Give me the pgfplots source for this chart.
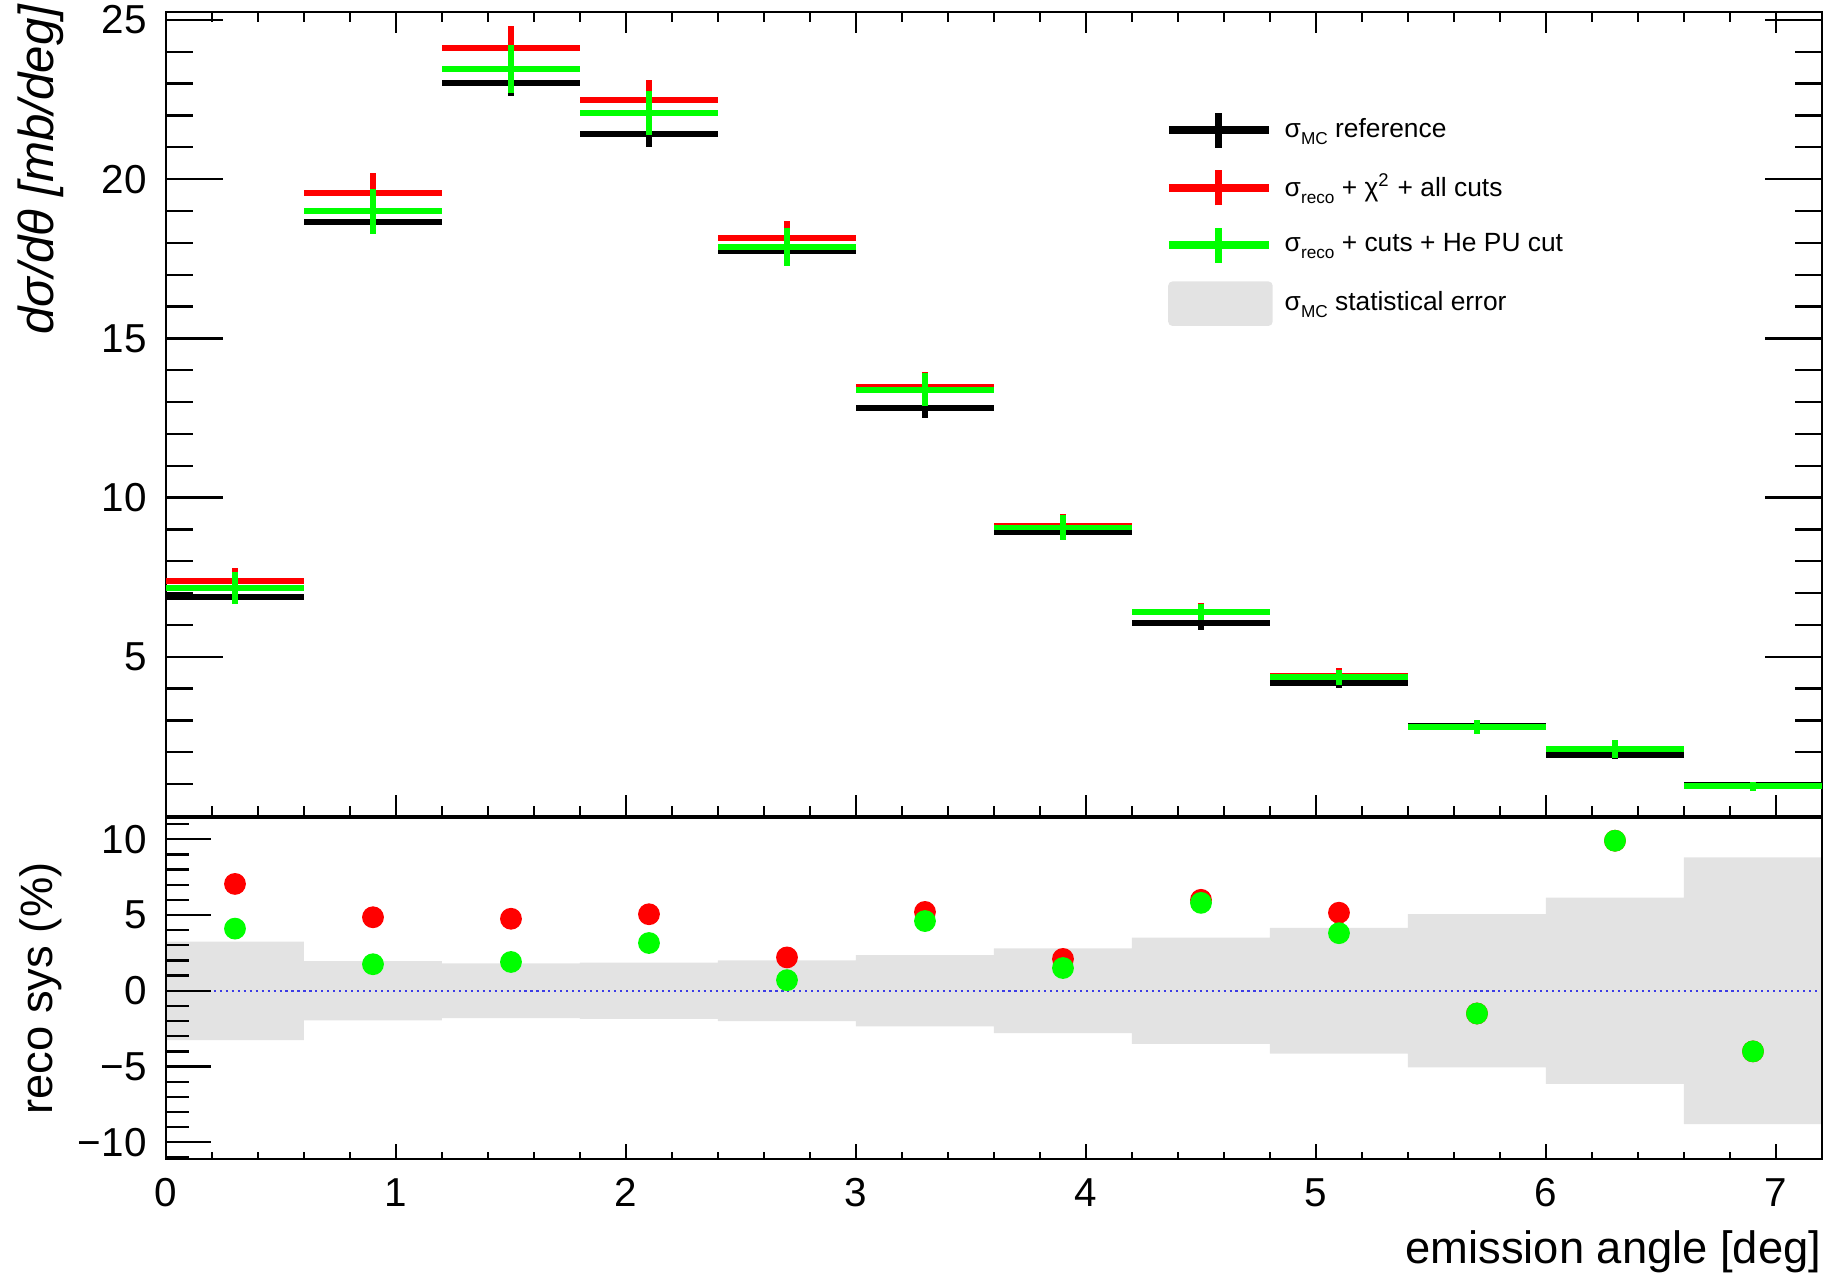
\documentclass[border=0pt]{standalone}
\usepackage{fontspec}
\setmainfont{Liberation Sans}
\usepackage{pgfplots}
\usepackage{pgfplotstable}
\pgfplotsset{compat=1.18}
\definecolor{rred}{RGB}{255,0,0}
\definecolor{rgreen}{RGB}{0,255,0}
\definecolor{band}{RGB}{227,227,227}
\definecolor{rblue}{RGB}{60,60,230}
\newcommand{\sub}[1]{\raisebox{-0.5ex}{\fontsize{4.9}{5}\selectfont #1}}

\pgfplotstableread{
x y ey
0.3 6.88 0.23
0.9 18.66 0.37
1.5 23.02 0.42
2.1 21.41 0.40
2.7 17.75 0.36
3.3 12.80 0.30
3.9 8.93 0.25
4.5 6.06 0.21
5.1 4.19 0.17
5.7 2.84 0.14
6.3 1.92 0.12
6.9 0.97 0.085
}\mcdata
\pgfplotstableread{
x y ey
0.3 7.37 0.42
0.9 19.56 0.62
1.5 24.11 0.70
2.1 22.49 0.63
2.7 18.14 0.56
3.3 13.47 0.48
3.9 9.12 0.37
4.5 6.42 0.28
5.1 4.41 0.24
5.7 2.80 0.20
6.3 2.11 0.20
6.9 0.93 0.12
}\recodata
\pgfplotstableread{
x y ey
0.3 7.16 0.50
0.9 18.99 0.70
1.5 23.46 0.74
2.1 22.08 0.68
2.7 17.87 0.60
3.3 13.39 0.52
3.9 9.06 0.40
4.5 6.41 0.26
5.1 4.35 0.25
5.7 2.80 0.22
6.3 2.11 0.28
6.9 0.93 0.13
}\hedata
\pgfplotstableread{
x r g
0.3 7.05 4.10
0.9 4.85 1.75
1.5 4.75 1.90
2.1 5.05 3.15
2.7 2.20 0.70
3.3 5.20 4.60
3.9 2.10 1.50
4.5 6.00 5.80
5.1 5.15 3.80
5.7 -1.50 -1.50
6.3 9.90 9.90
6.9 -4.00 -4.00
}\ratio

\pgfplotsset{
  rootaxis/.style={
    scale only axis, width=16.56cm,
    xmin=0, xmax=7.2,
    xtick={0,1,...,7},
    minor xtick={0,0.2,...,7.2},
    axis line style={line width=0.8pt, black},
    tick style={black, line width=0.65pt},
    tick label style={font=\fontsize{11.5}{13}\selectfont},
    /pgf/number format/assume math mode=true,
    yticklabel style={xshift=-2pt},
    xticklabel style={yshift=-2pt},
  },
  binbars/.style={only marks, mark=*, mark options={draw opacity=0, fill opacity=0}, forget plot,
    error bars/.cd, x dir=both, x fixed=0.3, y dir=both, y explicit, error mark=none,
    error bar style={line width=1.7pt, #1}},
}

\begin{document}
\begin{tikzpicture}
\path[use as bounding box] (-1.66cm,-4.61cm) rectangle (16.64cm,8.16cm);

\begin{axis}[rootaxis, name=top, at={(0,0)}, anchor=south west,
  height=8.04cm,
  ymin=0, ymax=25.25,
  ytick={0,5,...,25}, yticklabels={,5,10,15,20,25},
  minor ytick={0,1,...,25},
  xticklabels={},
  every major x tick/.append style={/pgfplots/major tick length=0.21cm},
  every minor x tick/.append style={/pgfplots/minor tick length=0.10cm},
  every major y tick/.append style={/pgfplots/major tick length=0.57cm},
  every minor y tick/.append style={/pgfplots/minor tick length=0.27cm},
  ylabel={\itshape dσ/dθ [mb/deg]},
  every axis y label/.style={at={(axis description cs:-0.0755,1.01)}, anchor=east, rotate=90, inner sep=0pt, font=\fontsize{14}{16}\selectfont},
  legend style={at={(axis description cs:0.6033,0.879)}, anchor=north west, draw=none, fill=none, inner sep=0pt, outer sep=0pt, row sep=4.3pt, font=\fontsize{7.5}{8.5}\selectfont,
    /tikz/every odd column/.append style={column sep=1.4pt}},
  legend cell align=left,
]
\addplot[black, binbars=black] table[x=x, y=y, y error=ey]{\mcdata};
\addplot[rred, binbars=rred] table[x=x, y=y, y error=ey]{\recodata};
\addplot[rgreen, binbars=rgreen] table[x=x, y=y, y error=ey]{\hedata};

\addlegendimage{legend image code/.code={
  \path[draw=none, fill=none] (0cm,-0.2cm) rectangle (1cm,0.2cm);
  \draw[black, line width=2.2pt] (0cm,0cm) -- (1cm,0cm);
  \draw[black, line width=2pt] (0.5cm,-0.175cm) -- (0.5cm,0.175cm);}}
\addlegendentry{σ\sub{MC} reference}
\addlegendimage{legend image code/.code={
  \path[draw=none, fill=none] (0cm,-0.2cm) rectangle (1cm,0.2cm);
  \draw[rred, line width=2.2pt] (0cm,0cm) -- (1cm,0cm);
  \draw[rred, line width=2pt] (0.5cm,-0.175cm) -- (0.5cm,0.175cm);}}
\addlegendentry{σ\sub{reco} + χ\textsuperscript{2} + all cuts}
\addlegendimage{legend image code/.code={
  \path[draw=none, fill=none] (0cm,-0.2cm) rectangle (1cm,0.2cm);
  \draw[rgreen, line width=2.2pt] (0cm,0cm) -- (1cm,0cm);
  \draw[rgreen, line width=2pt] (0.5cm,-0.175cm) -- (0.5cm,0.175cm);}}
\addlegendentry{σ\sub{reco} + cuts + He PU cut}
\addlegendimage{legend image code/.code={
  \path[draw=none, fill=none] (0cm,-0.2cm) rectangle (1cm,0.2cm);
  \fill[band, rounded corners=1pt] (0cm,-0.215cm) rectangle (1.03cm,0.215cm);}}
\addlegendentry{σ\sub{MC} statistical error}
\end{axis}

\begin{axis}[rootaxis, at={(0,-0.02cm)}, anchor=north west,
  height=3.41cm,
  ymin=-11.1, ymax=11.4,
  ytick={-10,-5,0,5,10}, yticklabels={−10,−5,0,5,10},
  minor ytick={-11,-10,...,11},
  tick pos=left,
  every major x tick/.append style={/pgfplots/major tick length=0.15cm},
  every minor x tick/.append style={/pgfplots/minor tick length=0.07cm},
  every major y tick/.append style={/pgfplots/major tick length=0.45cm},
  every minor y tick/.append style={/pgfplots/minor tick length=0.23cm},
  xlabel={emission angle [deg]},
  ylabel={reco sys (\%)},
  every axis x label/.style={at={(axis description cs:1,0)}, anchor=base east, inner sep=0pt, yshift=-1.05cm, font=\fontsize{12.9}{15}\selectfont},
  every axis y label/.style={at={(axis description cs:-0.0755,0.5)}, anchor=center, rotate=90, font=\fontsize{12.9}{15}\selectfont},
  axis on top,
]
\addplot[fill=band, draw=none] coordinates {
(0,3.25)(0.6,3.25)(0.6,1.95)(1.2,1.95)(1.2,1.8)(1.8,1.8)(1.8,1.85)(2.4,1.85)
(2.4,2.0)(3.0,2.0)(3.0,2.35)(3.6,2.35)(3.6,2.8)(4.2,2.8)(4.2,3.5)(4.8,3.5)
(4.8,4.15)(5.4,4.15)(5.4,5.05)(6.0,5.05)(6.0,6.15)(6.6,6.15)(6.6,8.8)(7.2,8.8)
(7.2,-8.8)(6.6,-8.8)(6.6,-6.15)(6.0,-6.15)(6.0,-5.05)(5.4,-5.05)(5.4,-4.15)(4.8,-4.15)
(4.8,-3.5)(4.2,-3.5)(4.2,-2.8)(3.6,-2.8)(3.6,-2.35)(3.0,-2.35)(3.0,-2.0)(2.4,-2.0)
(2.4,-1.85)(1.8,-1.85)(1.8,-1.8)(1.2,-1.8)(1.2,-1.95)(0.6,-1.95)(0.6,-3.25)(0,-3.25)
} \closedcycle;
\addplot[rblue, line width=0.7pt, dash pattern=on 0.6pt off 1.1pt] coordinates {(0,0)(7.2,0)};
\addplot[only marks, mark=*, mark size=2.9pt, mark options={draw=rred, fill=rred}]
  table[x=x, y=r]{\ratio};
\addplot[only marks, mark=*, mark size=2.9pt, mark options={draw=rgreen, fill=rgreen}]
  table[x=x, y=g]{\ratio};
\end{axis}
\end{tikzpicture}
\end{document}
